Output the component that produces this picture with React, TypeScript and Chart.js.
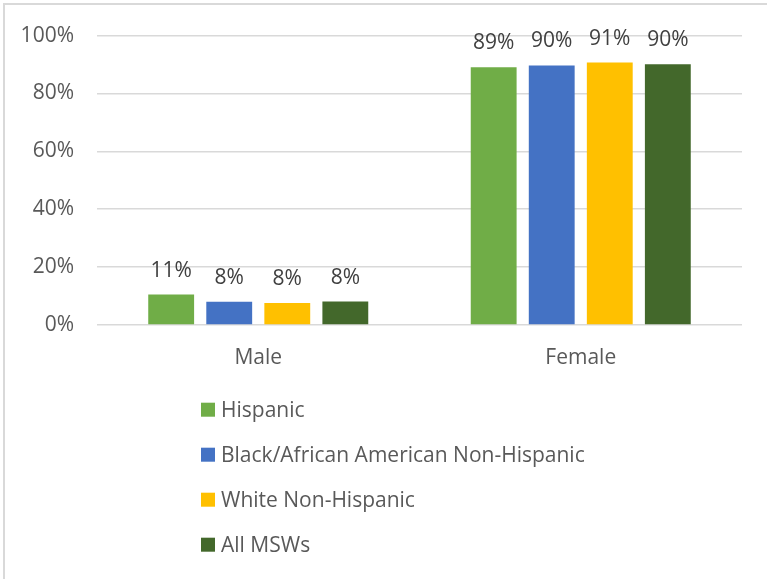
import React, { useEffect, useRef } from 'react';
import { Chart, registerables } from 'chart.js';

Chart.register(...registerables);

const categories = ['Male', 'Female'];
const seriesNames = ['Hispanic', 'Black/African American Non-Hispanic', 'White Non-Hispanic', 'All MSWs'];
const hispanic = [10.5, 89.1];
const blackNonHispanic = [8.0, 89.7];
const whiteNonHispanic = [7.6, 90.7];
const allMsws = [8.1, 90.1];
const seriesColors = ['#70AD47', '#4472C4', '#FFC000', '#43682B'];
const yTicks = [0, 20, 40, 60, 80, 100];

const FONT = '"Open Sans", sans-serif';
const FONT_SIZE = 21;

const dataLabelPlugin = {
  id: 'dataLabels',
  afterDatasetsDraw(chart: any) {
    const ctx = chart.ctx;
    ctx.save();
    ctx.font = `${FONT_SIZE}px ${FONT}`;
    ctx.fillStyle = '#404040';
    ctx.textAlign = 'center';
    ctx.textBaseline = 'alphabetic';
    chart.data.datasets.forEach((ds: any, i: number) => {
      const meta = chart.getDatasetMeta(i);
      meta.data.forEach((bar: any, j: number) => {
        const v = ds.data[j];
        ctx.fillText(`${Math.round(v)}%`, bar.x, bar.y - 18);
      });
    });
    ctx.restore();
  },
};

const legendPlugin = {
  id: 'customLegend',
  afterDraw(chart: any) {
    const ctx = chart.ctx;
    ctx.save();
    ctx.font = `${FONT_SIZE}px ${FONT}`;
    ctx.textAlign = 'left';
    ctx.textBaseline = 'middle';
    chart.data.datasets.forEach((ds: any, i: number) => {
      const cy = 409.7 + 45 * i;
      ctx.fillStyle = ds.backgroundColor;
      ctx.fillRect(201, cy - 7, 14, 14);
      ctx.fillStyle = '#595959';
      ctx.fillText(ds.label, 221, cy + 1);
    });
    ctx.restore();
  },
};

export default function App() {
  const ref = useRef<HTMLCanvasElement | null>(null);

  useEffect(() => {
    if (!ref.current) return;
    const seriesData = [hispanic, blackNonHispanic, whiteNonHispanic, allMsws];
    const chart = new Chart(ref.current, {
      type: 'bar',
      data: {
        labels: categories,
        datasets: seriesNames.map((name, i) => ({
          label: name,
          data: seriesData[i],
          backgroundColor: seriesColors[i],
          borderWidth: 0,
          categoryPercentage: 0.72,
          barPercentage: 0.79,
        })),
      },
      options: {
        animation: false,
        responsive: false,
        maintainAspectRatio: false,
        layout: { padding: { left: 0, top: 33, right: 25, bottom: 0 } },
        plugins: {
          legend: { display: false },
          tooltip: { enabled: false },
        },
        scales: {
          x: {
            grid: { display: false, drawTicks: false },
            border: { display: false },
            ticks: {
              color: '#595959',
              font: { family: FONT, size: FONT_SIZE },
              padding: 20,
            },
            afterFit: (scale: any) => {
              scale.height = 579 - 325;
            },
          },
          y: {
            min: 0,
            max: 100,
            afterBuildTicks: (scale: any) => {
              scale.ticks = yTicks.map((v) => ({ value: v }));
            },
            grid: { color: '#d9d9d9', lineWidth: 1.5, drawTicks: false },
            border: { display: false },
            ticks: {
              color: '#595959',
              font: { family: FONT, size: FONT_SIZE },
              padding: 23,
              callback: (v: any) => `${v}%`,
            },
            afterFit: (scale: any) => {
              scale.width = 97;
            },
          },
        },
      },
      plugins: [dataLabelPlugin, legendPlugin],
    });
    return () => chart.destroy();
  }, []);

  return (
    <div style={{ position: 'fixed', left: 0, top: 0, width: 767, height: 579, background: '#fff', overflow: 'hidden' }}>
      <div
        style={{
          position: 'absolute',
          left: 3,
          top: 3,
          width: 800,
          height: 600,
          borderLeft: '2px solid #d9d9d9',
          borderTop: '2px solid #d9d9d9',
        }}
      />
      <canvas ref={ref} width={767} height={579} style={{ position: 'absolute', left: 0, top: 0 }} />
    </div>
  );
}
